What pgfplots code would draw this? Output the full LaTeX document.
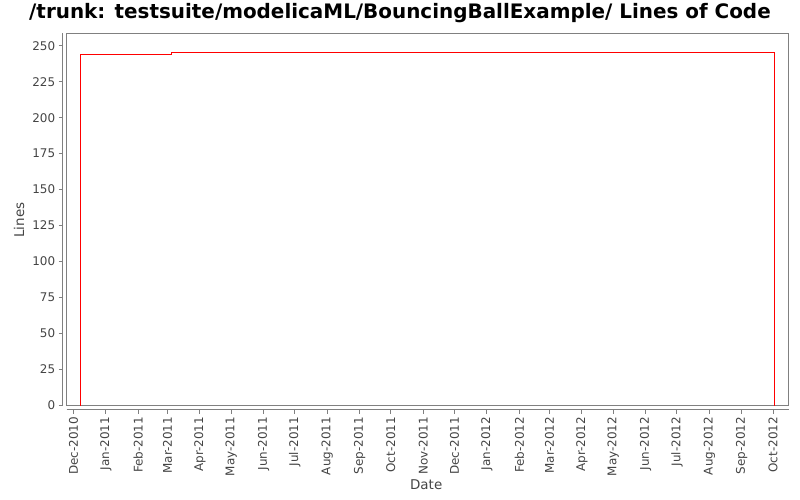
\documentclass[border=0pt]{standalone}
\usepackage{pgfplots}
\pgfplotsset{compat=1.18}
\usepackage{fontspec}
\setmainfont{DejaVu Sans}
\definecolor{axisgray}{HTML}{808080}
\definecolor{labelgray}{HTML}{444444}

\begin{document}
\begin{tikzpicture}
\begin{axis}[
    at={(0,0)}, anchor=south west,
    scale only axis,
    width=722bp, height=372bp,
    xmin=-6.5, xmax=685,
    ymin=0, ymax=258.5,
    axis x line=bottom, axis y line=left,
    axis x line shift=4bp, axis y line shift=4bp,
    axis line style={-, draw=axisgray, line width=1bp},
    tick align=outside,
    major tick length=4bp,
    tick style={draw=axisgray, line width=1bp},
    ytick={0,25,...,250},
    xtick={0,31,62,90,121,151,182,212,243,274,304,335,365,396,427,456,487,517,548,578,609,640,670},
    xticklabels={Dec-2010,Jan-2011,Feb-2011,Mar-2011,Apr-2011,May-2011,Jun-2011,Jul-2011,Aug-2011,Sep-2011,Oct-2011,Nov-2011,Dec-2011,Jan-2012,Feb-2012,Mar-2012,Apr-2012,May-2012,Jun-2012,Jul-2012,Aug-2012,Sep-2012,Oct-2012},
    /pgf/number format/assume math mode=true,
    yticklabel style={font=\fontsize{12}{14}\selectfont, text=labelgray},
    xticklabel style={font=\fontsize{12}{14}\selectfont, text=labelgray, rotate=90, anchor=east},
    clip=false,
]
\draw[axisgray, line width=1bp] (rel axis cs:0,0) rectangle (rel axis cs:1,1);
\addplot[red, line width=1bp] coordinates {
    (7,0) (7,244) (94,244) (94,245) (671,245) (671,0)
};
\end{axis}
\node[font=\bfseries\fontsize{20}{24}\selectfont] at (333.3bp,392.5bp) {/trunk: testsuite/modelicaML/BouncingBallExample/ Lines of Code};
\node[font=\fontsize{13.5}{16}\selectfont, text=labelgray] at (359.5bp,-79.5bp) {Date};
\node[font=\fontsize{13.5}{16}\selectfont, text=labelgray, rotate=90] at (-47.7bp,185.5bp) {Lines};
\pgfresetboundingbox
\useasboundingbox (-66.7bp,-94.5bp) rectangle (733.3bp,405.5bp);
\end{tikzpicture}
\end{document}
